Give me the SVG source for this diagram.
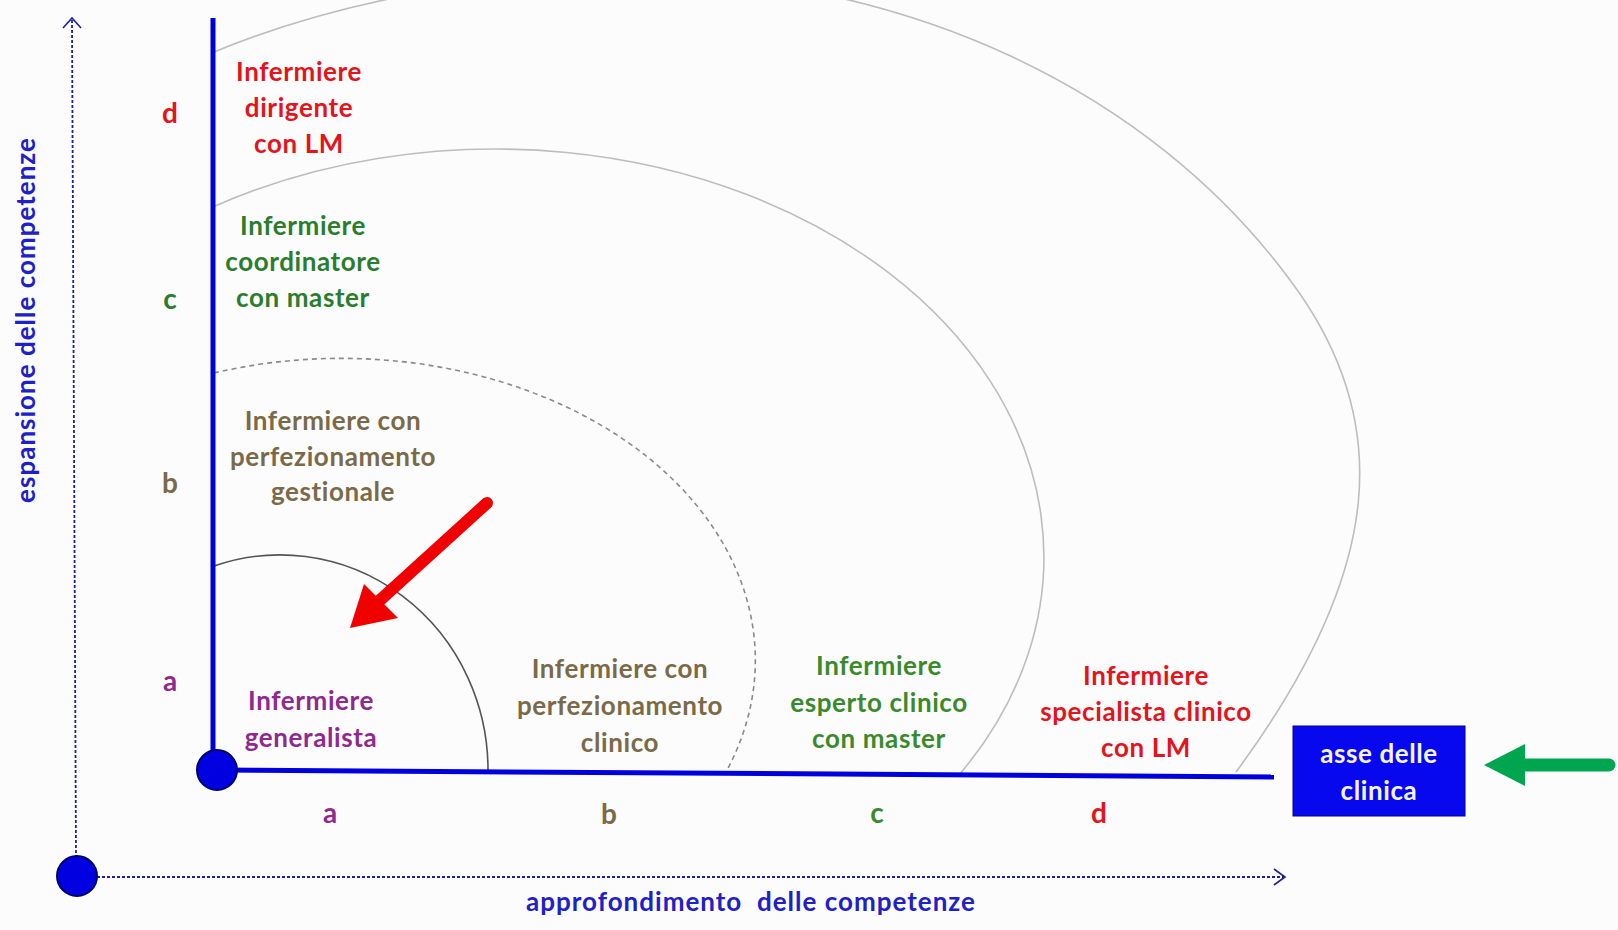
<svg xmlns="http://www.w3.org/2000/svg" width="1618" height="930" viewBox="0 0 1618 930">
<style>
text{font-family:Lato,"Open Sans","Liberation Sans",sans-serif;font-weight:bold;text-anchor:middle}
.lbl{font-size:26px;letter-spacing:0.6px}
.ax{font-size:26px;letter-spacing:1px}
.big{font-size:28px}
.red{fill:#E3141C}
.grn{fill:#2A7D2E}
.grn2{fill:#3A8A2C}
.olv{fill:#7A6A48}
.pur{fill:#8E2A8E}
.blu{fill:#2020C8}
.arc{fill:none;stroke-width:1.6}
.dot{stroke:#1E1EA0;stroke-width:1.8;stroke-dasharray:3 2;fill:none}
.chev{stroke:#1E1EA0;stroke-width:1.6;fill:none}
.axis{stroke:#0000DC;stroke-width:5;fill:none}
.dotc{fill:#0000E0;stroke:#00006A;stroke-width:2}
</style>
<rect width="1618" height="930" fill="#FCFCFC"/>
<g id="connectors">
<path class="arc" stroke="#BDBDBD" d="M214,52 C335,2 485,-26 625,-26 C905,-26 1150,90 1290,280 C1395,420 1385,570 1236,772"/>
<path class="arc" stroke="#BDBDBD" d="M214,206.5 A549,408 0 0,1 959,775"/>
<path class="arc" stroke="#8A8A8A" stroke-dasharray="5 4" d="M214,373 A414,302 0 0,1 726,772"/>
<path class="arc" stroke="#555555" d="M214,566 A208,215 0 0,1 488,771"/>
<path class="dot" d="M72,20 L76,858"/>
<path class="chev" d="M63,28 L72,18 L81,28"/>
<path class="dot" d="M97,877 L1284,877"/>
<path class="chev" d="M1274,869 L1285,877 L1274,885"/>
<path class="axis" d="M213,18 L213,770"/>
<path class="axis" d="M217,770 L1274,777"/>
<line x1="487" y1="503" x2="378" y2="602" stroke="#F00000" stroke-width="12" stroke-linecap="round"/>
<polygon points="350,628 364,584 398,618" fill="#F00000"/>
<line x1="1609" y1="765" x2="1520" y2="765" stroke="#00A550" stroke-width="13" stroke-linecap="round"/>
<polygon points="1484,765 1525,744 1525,786" fill="#00A550"/>
</g>
<g id="origin-outer"><circle class="dotc" cx="77" cy="876" r="20"/></g>
<g id="origin-inner"><circle class="dotc" cx="217" cy="770" r="20"/></g>
<g id="label-y"><text class="ax blu" transform="translate(35,320) rotate(-90)">espansione delle competenze</text></g>
<g id="label-x"><text class="ax blu" x="751" y="911" xml:space="preserve">approfondimento  delle competenze</text></g>
<g id="levels-y">
<text class="big red" x="170" y="123">d</text>
<text class="big grn" x="170" y="309">c</text>
<text class="big olv" x="170" y="493">b</text>
<text class="big pur" x="170" y="691">a</text>
</g>
<g id="levels-x">
<text class="big pur" x="330" y="823">a</text>
<text class="big olv" x="609" y="824">b</text>
<text class="big grn2" x="877" y="823">c</text>
<text class="big red" x="1099" y="823">d</text>
</g>
<g id="node-dirigente">
<text class="lbl red" x="299" y="81">Infermiere</text>
<text class="lbl red" x="299" y="117">dirigente</text>
<text class="lbl red" x="299" y="153">con LM</text>
</g>
<g id="node-coordinatore">
<text class="lbl grn" x="303" y="235">Infermiere</text>
<text class="lbl grn" x="303" y="271">coordinatore</text>
<text class="lbl grn" x="303" y="307">con master</text>
</g>
<g id="node-gestionale">
<text class="lbl olv" x="333" y="430">Infermiere con</text>
<text class="lbl olv" x="333" y="466">perfezionamento</text>
<text class="lbl olv" x="333" y="501">gestionale</text>
</g>
<g id="node-generalista">
<text class="lbl pur" x="311" y="710">Infermiere</text>
<text class="lbl pur" x="311" y="747">generalista</text>
</g>
<g id="node-clinico">
<text class="lbl olv" x="620" y="678">Infermiere con</text>
<text class="lbl olv" x="620" y="715">perfezionamento</text>
<text class="lbl olv" x="620" y="752">clinico</text>
</g>
<g id="node-esperto">
<text class="lbl grn2" x="879" y="675">Infermiere</text>
<text class="lbl grn2" x="879" y="712">esperto clinico</text>
<text class="lbl grn2" x="879" y="748">con master</text>
</g>
<g id="node-specialista">
<text class="lbl red" x="1146" y="685">Infermiere</text>
<text class="lbl red" x="1146" y="721">specialista clinico</text>
<text class="lbl red" x="1146" y="757">con LM</text>
</g>
<g id="node-asse">
<rect x="1293" y="726" width="172" height="90" fill="#0808EE" stroke="#0000A0" stroke-width="1"/>
<text class="lbl" fill="#F4F4FF" x="1379" y="763">asse delle</text>
<text class="lbl" fill="#F4F4FF" x="1379" y="800">clinica</text>
</g>
</svg>
